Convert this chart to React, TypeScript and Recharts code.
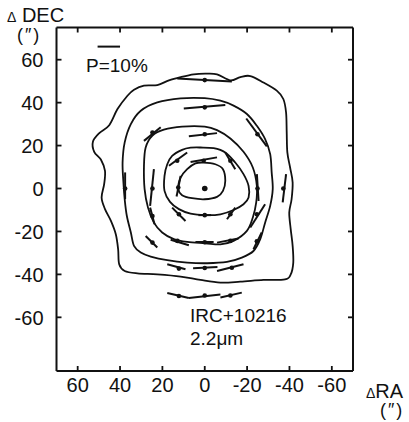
import { ComposedChart, Line, Scatter, XAxis, YAxis, ReferenceLine } from 'recharts';

document.body.style.margin = '0';

// ─── Data (arcsec offsets, RA increases to the left) ─────────────────────────

const RA_TICKS = [60, 40, 20, 0, -20, -40, -60];
const DEC_TICKS = [60, 40, 20, 0, -20, -40, -60];

type Pt = [number, number];

const CONTOUR_1: Pt[] = [
    [0.5, 12.1], [-5.0, 11.3], [-8.6, 9.0], [-9.7, 3.6], [-8.6, -1.1], [-5.8, -3.9],
    [0, -5.0], [6.0, -4.5], [10.7, -3.1], [12.5, 0], [11.4, 5.1], [8.3, 9.0], [4.4, 11.7],
];

const CONTOUR_2: Pt[] = [
    [2.0, 19.1], [-4.2, 18.8], [-9.7, 16.8], [-14.4, 12.1], [-18.3, 6.7], [-20.7, 1.2],
    [-20.7, -4.2], [-18.3, -7.3], [-13.6, -10.0], [-7.4, -12.0], [-0.3, -12.4], [6.7, -11.7],
    [12.2, -9.6], [16.4, -6.2], [19.0, -1.1], [19.0, 5.9], [17.7, 11.3], [15.4, 15.2],
    [10.7, 18.0], [6.7, 19.0],
];

const CONTOUR_3: Pt[] = [
    [0, 28.8], [-5.8, 27.2], [-12.1, 23.3], [-18.3, 17.1], [-22.7, 9.8], [-24.6, 1.2],
    [-24.3, -6.5], [-22.7, -13.5], [-19.9, -19.7], [-13.6, -24.4], [-7.4, -26.0], [-0.3, -25.5],
    [8.3, -24.9], [14.6, -23.6], [20.1, -20.5], [24.0, -15.9], [26.8, -8.9], [28.4, -0.3],
    [28.7, 10.6], [27.9, 19.1], [24.7, 24.6], [19.3, 27.4], [10.7, 28.8],
];

const CONTOUR_4: Pt[] = [
    [0, 42.1], [-7.4, 40.9], [-13.6, 38.6], [-19.9, 34.7], [-24.6, 29.2], [-28.5, 23.0],
    [-30.9, 16.0], [-31.6, 7.5], [-32.1, -0.3], [-30.9, -8.1], [-28.5, -15.9], [-26.2, -23.6],
    [-23.0, -29.1], [-17.5, -32.2], [-10.5, -34.2], [-1.1, -34.8], [8.3, -34.5], [17.7, -33.4],
    [25.5, -31.7], [30.2, -29.8], [33.4, -26.7], [34.9, -20.5], [36.8, -12.7], [37.8, -5.0],
    [38.4, 2.8], [38.8, 12.1], [37.8, 21.5], [34.9, 30.0], [30.2, 36.2], [22.4, 40.1], [11.4, 42.0],
];

const CONTOUR_5: Pt[] = [
    [28.7, 47.9], [22.4, 48.2], [16.9, 50.4], [11.4, 51.9], [5.2, 53.2], [-0.3, 53.5],
    [-5.8, 53.2], [-12.1, 50.4], [-16.8, 51.9], [-21.5, 52.4], [-27.7, 49.4], [-34.0, 45.6],
    [-37.1, 41.7], [-38.4, 35.4], [-38.7, 26.1], [-39.0, 16.8], [-40.3, 9.8], [-41.5, 2.8],
    [-41.0, -5.0], [-39.9, -11.2], [-40.6, -19.0], [-41.5, -26.7], [-41.8, -34.5], [-40.6, -40.0],
    [-37.9, -42.3], [-27.7, -42.6], [-16.8, -43.4], [-7.4, -43.8], [2.0, -42.6], [11.4, -41.0],
    [22.4, -40.0], [31.8, -39.5], [37.8, -38.4], [40.4, -35.3], [40.9, -28.3], [42.0, -21.3],
    [44.3, -15.1], [47.1, -9.6], [48.7, -4.2], [47.5, 2.0], [47.1, 8.2], [49.0, 13.4],
    [52.2, 17.1], [52.8, 21.8], [49.8, 25.8], [45.1, 29.5], [41.2, 37.0], [36.5, 43.2], [33.4, 46.0],
];

const CONTOURS = [CONTOUR_1, CONTOUR_2, CONTOUR_3, CONTOUR_4, CONTOUR_5];

// polarization vectors: [x1, y1, x2, y2]
const VECTORS: [number, number, number, number][] = [
    [13.0, 51.2, -12.8, 49.8],
    [9.9, 37.3, -9.7, 38.9],
    [28.7, 22.2, 20.8, 28.5],
    [-19.6, 32.6, -29.3, 19.6],
    [7.5, 24.3, -5.8, 25.8],
    [16.9, 10.6, 8.3, 16.8],
    [6.7, 12.4, -5.8, 14.5],
    [-9.7, 16.8, -14.4, 9.0],
    [37.6, 7.5, 37.6, -5.0],
    [24.0, 9.0, 25.8, -8.1],
    [11.4, 5.9, 13.3, -3.7],
    [-24.6, 6.7, -25.4, -5.8],
    [-38.4, 6.7, -36.8, -6.5],
    [25.8, -8.9, 23.7, -16.6],
    [15.4, -8.9, 9.1, -15.1],
    [3.0, -12.4, -3.0, -12.4],
    [-10.5, -14.3, -14.4, -8.9],
    [-21.5, -18.2, -28.5, -7.3],
    [27.9, -22.1, 22.4, -27.5],
    [16.1, -23.9, 7.5, -26.4],
    [4.4, -24.9, -4.2, -24.9],
    [-5.8, -25.2, -15.9, -23.3],
    [-23.0, -28.3, -26.9, -20.5],
    [17.7, -35.3, 9.1, -37.6],
    [5.5, -37.1, -6.0, -36.6],
    [-5.8, -38.4, -18.3, -35.3],
    [17.7, -48.7, 7.5, -51.0],
    [7.5, -51.0, -7.4, -49.4],
    [-7.4, -50.8, -17.5, -48.5],
];

const VECTOR_CENTRES: Pt[] = [
    [0, 50.5], [0, 37.8], [24.7, 26.1], [-24.9, 25.3], [0, 25.3],
    [13.0, 12.9], [0.5, 12.9], [-12.1, 12.9],
    [37.6, 0], [24.7, 0], [12.5, 0.5], [-24.9, 0], [-37.1, 0],
    [24.7, -12.8], [12.2, -12.0], [0, -12.4], [-12.1, -12.0], [-24.6, -12.0],
    [24.7, -25.2], [12.9, -24.4], [0, -25.0], [-12.1, -24.4], [-24.6, -24.6],
    [12.2, -37.3], [0, -37.0], [-12.8, -36.9],
    [12.2, -50.1], [0, -49.8], [-12.1, -49.8],
];

const PEAK: Pt[] = [[0, 0]];

// 10% polarization scale bar
const SCALE_BAR: Pt[] = [[50.6, 66.1], [40.0, 66.1]];

// ─── Helpers ─────────────────────────────────────────────────────────────────

const FONT = '"Liberation Sans", Arial, sans-serif';
const INK = '#111';

// closed Catmull-Rom curve, so contours join smoothly
function closedCurve(context: any) {
    let pts: number[][] = [];
    return {
        areaStart() {},
        areaEnd() {},
        lineStart() { pts = []; },
        point(x: number, y: number) { pts.push([x, y]); },
        lineEnd() {
            const n = pts.length;
            if (!n) return;
            context.moveTo(pts[0][0], pts[0][1]);
            for (let i = 0; i < n; i += 1) {
                const p0 = pts[(i - 1 + n) % n];
                const p1 = pts[i];
                const p2 = pts[(i + 1) % n];
                const p3 = pts[(i + 2) % n];
                context.bezierCurveTo(
                    p1[0] + (p2[0] - p0[0]) / 6, p1[1] + (p2[1] - p0[1]) / 6,
                    p2[0] - (p3[0] - p1[0]) / 6, p2[1] - (p3[1] - p1[1]) / 6,
                    p2[0], p2[1],
                );
            }
            context.closePath();
        },
    };
}

const toXY = (pts: Pt[]) => pts.map(([x, y]) => ({ x, y }));

const LeftTick = ({ x, y, payload }: any) => (
    <text x={x} y={y + 7.5} textAnchor="end" fontSize={20} fontFamily={FONT} fill={INK}>
        {payload.value}
    </text>
);

const BottomTick = ({ x, y, payload }: any) => (
    <text x={x} y={y + 15.5} textAnchor="middle" fontSize={20} fontFamily={FONT} fill={INK}>
        {payload.value}
    </text>
);

const NoLabel = () => <g />;

const VectorDot = ({ cx, cy }: any) => <circle cx={cx} cy={cy} r={2.3} fill={INK} />;
const PeakDot = ({ cx, cy }: any) => <circle cx={cx} cy={cy} r={2.8} fill={INK} />;

// ─── Component ────────────────────────────────────────────────────────────────

export default function App() {
    return (
        <div style={{ position: 'relative', width: 409, height: 422, background: '#fff' }}>
            <ComposedChart
                width={409}
                height={422}
                margin={{ top: 26.5, right: 55, bottom: 21, left: 6.5 }}
            >
                <XAxis
                    type="number"
                    dataKey="x"
                    domain={[-70, 70]}
                    reversed
                    allowDataOverflow
                    ticks={RA_TICKS}
                    height={30}
                    tickSize={-5}
                    tickMargin={10}
                    tick={BottomTick}
                    axisLine={{ stroke: INK, strokeWidth: 2 }}
                    tickLine={{ stroke: INK, strokeWidth: 1.8 }}
                />
                <XAxis
                    xAxisId="top"
                    orientation="top"
                    type="number"
                    dataKey="x"
                    domain={[-70, 70]}
                    reversed
                    allowDataOverflow
                    ticks={RA_TICKS}
                    height={1}
                    tickSize={-5}
                    tick={NoLabel}
                    axisLine={{ stroke: INK, strokeWidth: 2 }}
                    tickLine={{ stroke: INK, strokeWidth: 1.8 }}
                />
                <YAxis
                    type="number"
                    dataKey="y"
                    domain={[-85, 75]}
                    allowDataOverflow
                    ticks={DEC_TICKS}
                    width={50}
                    tickSize={-5}
                    tickMargin={18}
                    tick={LeftTick}
                    axisLine={{ stroke: INK, strokeWidth: 2 }}
                    tickLine={{ stroke: INK, strokeWidth: 1.8 }}
                />
                <YAxis
                    yAxisId="right"
                    orientation="right"
                    type="number"
                    dataKey="y"
                    domain={[-85, 75]}
                    allowDataOverflow
                    ticks={DEC_TICKS}
                    width={1}
                    tickSize={-5}
                    tick={NoLabel}
                    axisLine={{ stroke: INK, strokeWidth: 2 }}
                    tickLine={{ stroke: INK, strokeWidth: 1.8 }}
                />

                {CONTOURS.map((c, i) => (
                    <Line
                        key={`contour-${i}`}
                        data={toXY(c)}
                        dataKey="y"
                        type={closedCurve as any}
                        stroke={INK}
                        strokeWidth={1.8}
                        dot={false}
                        activeDot={false}
                        isAnimationActive={false}
                    />
                ))}

                {VECTORS.map(([x1, y1, x2, y2], i) => (
                    <ReferenceLine
                        key={`vec-${i}`}
                        segment={[{ x: x1, y: y1 }, { x: x2, y: y2 }]}
                        stroke={INK}
                        strokeWidth={2}
                        ifOverflow="visible"
                    />
                ))}

                <ReferenceLine
                    segment={[
                        { x: SCALE_BAR[0][0], y: SCALE_BAR[0][1] },
                        { x: SCALE_BAR[1][0], y: SCALE_BAR[1][1] },
                    ]}
                    stroke={INK}
                    strokeWidth={2}
                    ifOverflow="visible"
                />

                <Scatter data={toXY(VECTOR_CENTRES)} dataKey="y" shape={VectorDot} isAnimationActive={false} />
                <Scatter data={toXY(PEAK)} dataKey="y" shape={PeakDot} isAnimationActive={false} />
            </ComposedChart>

            <svg
                width={409}
                height={422}
                style={{ position: 'absolute', left: 0, top: 0, pointerEvents: 'none' }}
                fontFamily={FONT}
                fill={INK}
            >
                <text x={7} y={22} fontSize={20}>
                    <tspan fontSize={14}>Δ</tspan> DEC
                </text>
                <text x={17} y={41} fontSize={18} letterSpacing={2}>(″)</text>

                <text x={86} y={71.5} fontSize={19}>P=10%</text>

                <text x={190} y={322} fontSize={19}>IRC+10216</text>
                <text x={190} y={345} fontSize={19}>2.2μm</text>

                <text x={366} y={398} fontSize={20}>
                    <tspan fontSize={14}>Δ</tspan>RA
                </text>
                <text x={380} y={416} fontSize={18} letterSpacing={2}>(″)</text>
            </svg>
        </div>
    );
}
